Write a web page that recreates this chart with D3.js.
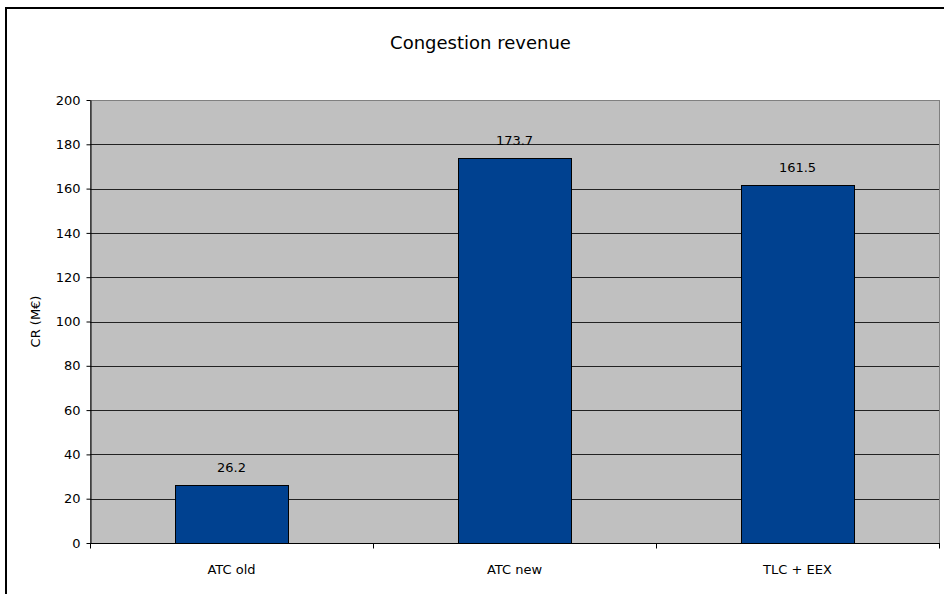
<!DOCTYPE html>
<html>
<head>
<meta charset="utf-8">
<script src="https://cdn.jsdelivr.net/npm/d3@7"></script>
<style>
  html, body { margin: 0; padding: 0; background: #fff; }
  svg { display: block; font-family: "DejaVu Sans", Verdana, sans-serif; }
</style>
</head>
<body>
<svg id="chart" width="944" height="594"></svg>
<script>
const categories = ["ATC old", "ATC new", "TLC + EEX"];
const values = [26.2, 173.7, 161.5];
const yTicks = [0, 20, 40, 60, 80, 100, 120, 140, 160, 180, 200];
const title = "Congestion revenue";
const yLabel = "CR (M€)";

(function () {
const svg = d3.select("#chart");
const pL = 90, pR = 939, pT = 100, pB = 543;

// outer chart border (extends past the right/bottom edges)
svg.append("rect").attr("x", 6).attr("y", 8).attr("width", 1000).attr("height", 700)
  .attr("fill", "#fff").attr("stroke", "#000").attr("stroke-width", 2);

const x = d3.scaleBand().domain(categories).range([pL, pR]).padding(0);
const y = d3.scaleLinear().domain([0, 200]).range([pB, pT]);

// plot area
svg.append("rect").attr("x", pL).attr("y", pT).attr("width", pR - pL).attr("height", pB - pT)
  .attr("fill", "#c0c0c0").attr("stroke", "#808080").attr("stroke-width", 1)
  .attr("shape-rendering", "crispEdges");

// gridlines
svg.append("g").selectAll("line").data(yTicks.filter(d => d > 0 && d < 200)).join("line")
  .attr("x1", pL).attr("x2", pR)
  .attr("y1", d => Math.round(y(d)) + 0.5).attr("y2", d => Math.round(y(d)) + 0.5)
  .attr("stroke", "#222").attr("stroke-width", 1);

// bars
const bw = x.bandwidth() * 0.4;
svg.append("g").selectAll("rect").data(values).join("rect")
  .attr("x", (d, i) => Math.round(x(categories[i]) + x.bandwidth() / 2 - bw / 2) + 0.5)
  .attr("y", d => Math.round(y(d)) + 0.5)
  .attr("width", Math.round(bw))
  .attr("height", d => Math.round(y(0)) - Math.round(y(d)))
  .attr("fill", "#004190").attr("stroke", "#000").attr("stroke-width", 1);

// value labels
svg.append("g").selectAll("text").data(values).join("text")
  .attr("x", (d, i) => x(categories[i]) + x.bandwidth() / 2)
  .attr("y", d => y(d) - 13)
  .attr("text-anchor", "middle").attr("font-size", 13).attr("fill", "#000")
  .text(d => d.toFixed(1));

// y axis
const yAxis = d3.axisLeft(y).tickValues(yTicks).tickSize(4).tickPadding(6).tickSizeOuter(0);
const gy = svg.append("g").attr("transform", `translate(${pL + 0.5},0)`).call(yAxis);
gy.select(".domain").attr("stroke", "#000");
gy.selectAll(".tick line").attr("stroke", "#000");
gy.selectAll(".tick text").attr("font-size", 13).attr("font-family", "DejaVu Sans").attr("fill", "#000");

// x axis (ticks between categories)
const gx = svg.append("g").attr("transform", `translate(0,${pB + 0.5})`);
gx.append("line").attr("x1", pL).attr("x2", pR + 1).attr("y1", 0).attr("y2", 0).attr("stroke", "#000");
const bounds = categories.map(c => x(c)).concat([x(categories[categories.length - 1]) + x.bandwidth()]);
gx.selectAll("line.tk").data(bounds).join("line").attr("class", "tk")
  .attr("x1", d => Math.round(d) + 0.5).attr("x2", d => Math.round(d) + 0.5)
  .attr("y1", 0).attr("y2", 5).attr("stroke", "#000");
gx.selectAll("text").data(categories).join("text")
  .attr("x", d => x(d) + x.bandwidth() / 2).attr("y", 30)
  .attr("text-anchor", "middle").attr("font-size", 13).attr("fill", "#000")
  .text(d => d);

// title
svg.append("text").attr("x", 480.5).attr("y", 49)
  .attr("text-anchor", "middle").attr("font-size", 18).attr("fill", "#000").text(title);

// y label
svg.append("text").attr("transform", `translate(40,${(pT + pB) / 2}) rotate(-90)`)
  .attr("text-anchor", "middle").attr("font-size", 13).attr("fill", "#000").text(yLabel);
})();
</script>
</body>
</html>
